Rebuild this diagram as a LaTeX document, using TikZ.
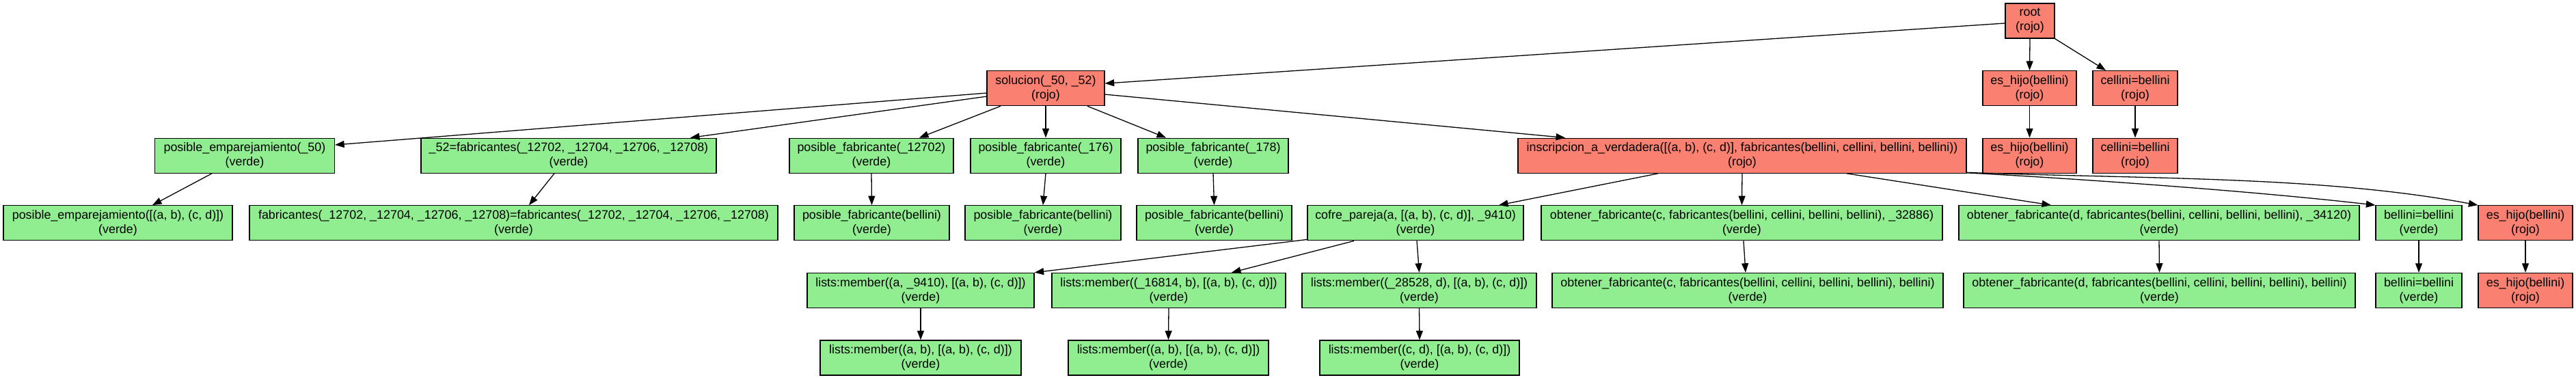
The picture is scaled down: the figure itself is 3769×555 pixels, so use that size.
\documentclass[tikz,border=0pt]{standalone}
\usepackage{fontspec}
\setmainfont{Liberation Sans}
\usetikzlibrary{arrows.meta}
\definecolor{salmon}{HTML}{FA8072}
\definecolor{lgreen}{HTML}{90EE90}
\tikzset{
  nd/.style={draw=black, line width=1.3pt, rectangle, inner sep=0pt,
    minimum height=51pt, align=center,
    font=\fontsize{17.9}{21}\selectfont},
  rojo/.style={nd, fill=salmon},
  verde/.style={nd, fill=lgreen},
  ed/.style={line width=1.3pt, -{Triangle[length=13.5pt,width=10pt]}},
}
\begin{document}
\begin{tikzpicture}[x=1pt,y=-1pt]
\useasboundingbox (0,0) rectangle (3769,555);
% row 0
\node[rojo, minimum width=72pt] (root) at (2970,30.5) {root\\(rojo)};
% row 1
\node[rojo, minimum width=172pt] (sol) at (1530,129.1) {solucion(\_50, \_52)\\(rojo)};
\node[rojo, minimum width=137pt] (es1) at (2969.5,129.1) {es\_hijo(bellini)\\(rojo)};
\node[rojo, minimum width=124pt] (ce1) at (3124,129.1) {cellini=bellini\\(rojo)};
% row 2
\node[verde, minimum width=263pt] (pe50) at (358,227.7) {posible\_emparejamiento(\_50)\\(verde)};
\node[verde, minimum width=432pt] (f52) at (832,227.7) {\_52=fabricantes(\_12702, \_12704, \_12706, \_12708)\\(verde)};
\node[verde, minimum width=240pt] (pf1) at (1275,227.7) {posible\_fabricante(\_12702)\\(verde)};
\node[verde, minimum width=220pt] (pf2) at (1530,227.7) {posible\_fabricante(\_176)\\(verde)};
\node[verde, minimum width=220pt] (pf3) at (1775,227.7) {posible\_fabricante(\_178)\\(verde)};
\node[rojo, minimum width=656pt] (insc) at (2549,227.7) {inscripcion\_a\_verdadera([(a, b), (c, d)], fabricantes(bellini, cellini, bellini, bellini))\\(rojo)};
\node[rojo, minimum width=137pt] (es2) at (2969.5,227.7) {es\_hijo(bellini)\\(rojo)};
\node[rojo, minimum width=124pt] (ce2) at (3124,227.7) {cellini=bellini\\(rojo)};
% row 3
\node[verde, minimum width=335pt] (pe) at (172.5,326.3) {posible\_emparejamiento([(a, b), (c, d)])\\(verde)};
\node[verde, minimum width=773pt] (feq) at (751.5,326.3) {fabricantes(\_12702, \_12704, \_12706, \_12708)=fabricantes(\_12702, \_12704, \_12706, \_12708)\\(verde)};
\node[verde, minimum width=227pt] (pb1) at (1275.5,326.3) {posible\_fabricante(bellini)\\(verde)};
\node[verde, minimum width=228pt] (pb2) at (1526,326.3) {posible\_fabricante(bellini)\\(verde)};
\node[verde, minimum width=227pt] (pb3) at (1776.5,326.3) {posible\_fabricante(bellini)\\(verde)};
\node[verde, minimum width=316pt] (cof) at (2071,326.3) {cofre\_pareja(a, [(a, b), (c, d)], \_9410)\\(verde)};
\node[verde, minimum width=587pt] (obc) at (2548.5,326.3) {obtener\_fabricante(c, fabricantes(bellini, cellini, bellini, bellini), \_32886)\\(verde)};
\node[verde, minimum width=586pt] (obd) at (3159,326.3) {obtener\_fabricante(d, fabricantes(bellini, cellini, bellini, bellini), \_34120)\\(verde)};
\node[verde, minimum width=126pt] (bb1) at (3539,326.3) {bellini=bellini\\(verde)};
\node[rojo, minimum width=138pt] (es3) at (3695,326.3) {es\_hijo(bellini)\\(rojo)};
% row 4
\node[verde, minimum width=332pt] (l1) at (1347,424.9) {lists:member((a, \_9410), [(a, b), (c, d)])\\(verde)};
\node[verde, minimum width=342pt] (l2) at (1710,424.9) {lists:member((\_16814, b), [(a, b), (c, d)])\\(verde)};
\node[verde, minimum width=343pt] (l3) at (2076.5,424.9) {lists:member((\_28528, d), [(a, b), (c, d)])\\(verde)};
\node[verde, minimum width=572pt] (obc2) at (2557,424.9) {obtener\_fabricante(c, fabricantes(bellini, cellini, bellini, bellini), bellini)\\(verde)};
\node[verde, minimum width=573pt] (obd2) at (3159.5,424.9) {obtener\_fabricante(d, fabricantes(bellini, cellini, bellini, bellini), bellini)\\(verde)};
\node[verde, minimum width=126pt] (bb2) at (3539,424.9) {bellini=bellini\\(verde)};
\node[rojo, minimum width=138pt] (es4) at (3695,424.9) {es\_hijo(bellini)\\(rojo)};
% row 5
\node[verde, minimum width=294pt] (m1) at (1347,523.5) {lists:member((a, b), [(a, b), (c, d)])\\(verde)};
\node[verde, minimum width=293pt] (m2) at (1709.5,523.5) {lists:member((a, b), [(a, b), (c, d)])\\(verde)};
\node[verde, minimum width=292pt] (m3) at (2077,523.5) {lists:member((c, d), [(a, b), (c, d)])\\(verde)};
% edges
\draw[ed] ([yshift=-3.5pt]root.west) -- ([yshift=7pt]sol.east);
\draw[ed] (root.south) -- (es1.north);
\draw[ed] (root.south east) -- ([xshift=-43pt]ce1.north);
\draw[ed] (es1.south) -- (es2.north);
\draw[ed] (ce1.south) -- (ce2.north);
\draw[ed] ([yshift=-7pt]sol.west) -- ([yshift=15.7pt]pe50.east);
\draw[ed] ([yshift=-12pt]sol.west) -- ([xshift=178pt]f52.north);
\draw[ed] ([xshift=-66pt]sol.south) -- ([xshift=70pt]pf1.north);
\draw[ed] (sol.south) -- (pf2.north);
\draw[ed] ([xshift=61pt]sol.south) -- ([xshift=-69pt]pf3.north);
\draw[ed] ([yshift=-9pt]sol.east) -- ([xshift=-259pt]insc.north);
\draw[ed] ([xshift=-48pt]pe50.south) -- ([xshift=50.5pt]pe.north);
\draw[ed] ([xshift=-21pt]f52.south) -- ([xshift=22.5pt]feq.north);
\draw[ed] (pf1.south) -- (pb1.north);
\draw[ed] (pf2.south) -- (pb2.north);
\draw[ed] (pf3.south) -- (pb3.north);
\draw[ed] ([xshift=-123pt]insc.south) -- ([xshift=122pt]cof.north);
\draw[ed] (insc.south) -- (obc.north);
\draw[ed] ([xshift=153pt]insc.south) -- ([xshift=-158pt]obd.north);
\draw[ed] ([yshift=1pt]insc.south east) .. controls (3050,262) and (3300,280) .. (bb1.north west);
\draw[ed] ([yshift=1.5pt]insc.south east) .. controls (3150,262) and (3400,258) .. (es3.north west);
\draw[ed] ([yshift=2pt]cof.south west) -- (l1.north east);
\draw[ed] ([xshift=-90pt]cof.south) -- ([xshift=92pt]l2.north);
\draw[ed] ([xshift=2pt]cof.south) -- (l3.north);
\draw[ed] ([xshift=2.5pt]obc.south) -- ([xshift=-3pt]obc2.north);
\draw[ed] (obd.south) -- (obd2.north);
\draw[ed] (bb1.south) -- (bb2.north);
\draw[ed] (es3.south) -- (es4.north);
\draw[ed] (l1.south) -- (m1.north);
\draw[ed] (l2.south) -- (m2.north);
\draw[ed] (l3.south) -- (m3.north);
\end{tikzpicture}
\end{document}
